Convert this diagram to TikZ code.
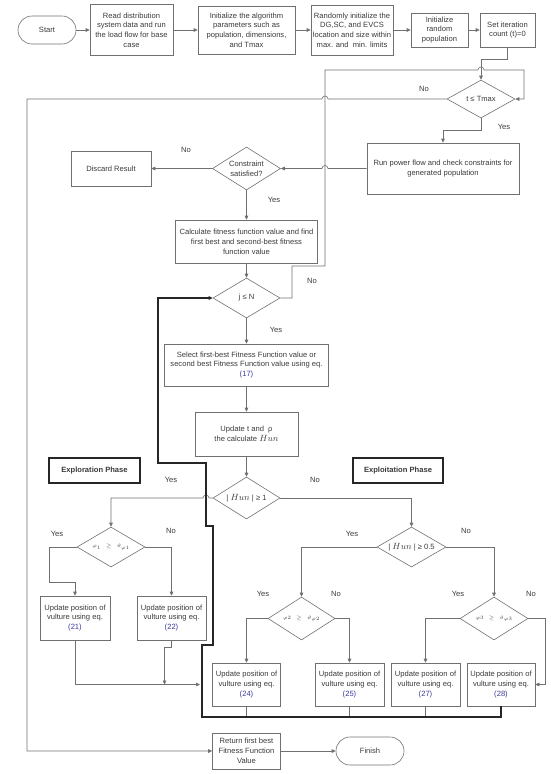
\documentclass[tikz,border=0pt]{standalone}
\usepackage{fontspec}
\setmainfont{Liberation Sans}
\usepackage{tikz}
\usetikzlibrary{arrows.meta,shapes.geometric}

\definecolor{linegray}{HTML}{707070}
\definecolor{txtgray}{HTML}{3A3A3A}
\definecolor{darkline}{HTML}{262626}
\definecolor{eqblue}{HTML}{3A3A9C}
\newcommand{\eqlink}[1]{\textcolor{eqblue}{(#1)}}
\newcommand{\hunvar}{{\fontsize{9.5}{9.8}\selectfont$Hun$}}
\newcommand{\phicond}[2]{{\fontsize{5.5}{6}\selectfont$\varphi#1\;\,\geq\;\,\vartheta_{\varphi#2}$}}

\begin{document}
\begin{tikzpicture}[x=1pt, y=-1pt,
    every node/.style={font=\fontsize{7.6}{9.8}\selectfont, text=txtgray},
    box/.style={draw=linegray, semithick, align=center, inner sep=1pt},
    dia/.style={draw=linegray, semithick, diamond, aspect=1.6, inner sep=0pt, align=center},
    term/.style={draw=linegray, semithick, rounded corners=14pt, align=center,
        minimum width=58, minimum height=28},
    phase/.style={draw=darkline, line width=1.1pt, font=\fontsize{7.6}{9.8}\bfseries,
        minimum width=91, minimum height=25},
    arr/.style={draw=linegray, semithick, -{Triangle[length=4pt,width=3.6pt]}},
    wire/.style={draw=linegray, semithick},
    back/.style={draw=darkline, line width=1.1pt}]
\useasboundingbox (0,0) rectangle (550,774);
% Top row
\node[term] (start) at (47,30) {Start};
\node[box, minimum width=83, minimum height=51] (read) at (131.5,30)
    {Read distribution\\system data and run\\the load flow for base\\case};
\node[box, minimum width=97, minimum height=48] (init) at (246.5,30)
    {Initialize the algorithm\\parameters such as\\population, dimensions,\\and Tmax};
\node[box, minimum width=82, minimum height=50] (rand) at (352,30)
    {Randomly initialize the\\DG,SC, and EVCS\\location and size within\\max. and\ \ min. limits};
\node[box, minimum width=57, minimum height=34] (irand) at (439.5,30)
    {Initialize\\random\\population};
\node[box, minimum width=55, minimum height=34] (setit) at (507.5,30)
    {Set iteration\\count (t)=0};
% Main loop
\node[dia, minimum width=68, minimum height=38] (tmax) at (481,99) {t ≤ Tmax};
\node[box, minimum width=152, minimum height=51] (run) at (443,168.5)
    {Run power flow and check constraints for\\generated population};
\node[dia, minimum width=68, minimum height=43] (cons) at (246.5,168.5)
    {Constraint\\satisfied?};
\node[box, minimum width=80, minimum height=35] (disc) at (111,168.5) {Discard Result};
\node[box, minimum width=142, minimum height=43] (calc) at (246.5,241.5)
    {Calculate fitness function value and find\\first best and second-best fitness\\function value};
\node[dia, minimum width=67, minimum height=40] (jn) at (246.5,298) {j ≤ N};
\node[box, minimum width=164, minimum height=42] (sel) at (246.5,365)
    {Select first-best Fitness Function value or\\second best Fitness Function value using eq.\\\eqlink{17}};
\node[box, minimum width=103, minimum height=44] (upd) at (246.5,434)
    {Update t and\ \ ρ\\the calculate \hunvar};
\node[dia, minimum width=67, minimum height=42] (hun) at (246.5,498)
    {| \hunvar\ | ≥ 1};
% Phases
\node[phase] (explor) at (94.5,470.5) {Exploration Phase};
\node[phase, minimum width=90] (exploit) at (398,470.5) {Exploitation Phase};
\node[dia, minimum width=68, minimum height=40] (phia) at (111,547) {\phicond{_1}{1}};
\node[dia, minimum width=69, minimum height=40] (hunb) at (411.5,547)
    {| \hunvar\ | ≥ 0.5};
\node[dia, minimum width=67, minimum height=43] (phib) at (301.5,618.5) {\phicond{2}{2}};
\node[dia, minimum width=68, minimum height=43] (phic) at (494,618.5) {\phicond{3}{3}};
% Position updates
\node[box, minimum width=70, minimum height=44] (boxa) at (75,618)
    {Update position of\\vulture using eq.\\\eqlink{21}};
\node[box, minimum width=69, minimum height=44] (boxb) at (171.5,618)
    {Update position of\\vulture using eq.\\\eqlink{22}};
\node[box, minimum width=68, minimum height=43] (boxc) at (246.5,684.5)
    {Update position of\\vulture using eq.\\\eqlink{24}};
\node[box, minimum width=69, minimum height=43] (boxd) at (349.5,684.5)
    {Update position of\\vulture using eq.\\\eqlink{25}};
\node[box, minimum width=69, minimum height=43] (boxe) at (425.5,684.5)
    {Update position of\\vulture using eq.\\\eqlink{27}};
\node[box, minimum width=68, minimum height=43] (boxf) at (501,684.5)
    {Update position of\\vulture using eq.\\\eqlink{28}};
\coordinate (merge) at (200,684.5);
% End
\node[box, minimum width=68, minimum height=36] (ret) at (246.5,751)
    {Return first best\\Fitness Function\\Value};
\node[term, minimum width=68] (fin) at (370,751) {Finish};

% Connectors, top row
\draw[arr] (start) -- (read);
\draw[arr] (read) -- (init);
\draw[arr] (init) -- (rand);
\draw[arr] (rand) -- (irand);
\draw[arr] (irand) -- (setit);
\draw[arr] (setit.south) -- ++(0,12) -| (tmax.north);
% t check
\draw[arr] (tmax.west) -- (328,99) arc[start angle=0, end angle=-180, radius=3]
    -- (27,99) |- (ret.west);
\draw[arr] (tmax.south) -- ++(0,12) -| (run.north);
\draw[arr] (run.west) -- (328,168.5) arc[start angle=0, end angle=-180, radius=3]
    -- (cons.east);
\draw[arr] (cons.west) -- (disc.east);
\draw[arr] (cons.south) -- (calc.north);
\draw[arr] (calc.south) -- (jn.north);
\draw[arr] (jn.east) -- (292,298) -- (292,266) -- (325,266) -- (325,70)
    -- (478,70) arc[start angle=180, end angle=360, radius=3] -- (524,70) |- (tmax.east);
\draw[arr] (jn.south) -- (sel.north);
\draw[arr] (sel.south) -- (upd.north);
\draw[arr] (upd.south) -- (hun.north);
% Exploration
\draw[arr] (hun.west) -- (209,498) arc[start angle=0, end angle=-180, radius=3]
    -| (phia.north);
\draw[arr] (phia.west) -- (49,547) -- (49,582) -| (boxa.north);
\draw[arr] (phia.east) -| (boxb.north);
\draw[arr] (boxa.south) |- (merge);
\draw[arr] (boxb.south) -- ++(0,7) -- ++(-7,0) -- (164.5,684.5);
% Exploitation
\draw[arr] (hun.east) -| (hunb.north);
\draw[arr] (hunb.west) -| (phib.north);
\draw[arr] (hunb.east) -| (phic.north);
\draw[arr] (phib.west) -| (boxc.north);
\draw[arr] (phib.east) -| (boxd.north);
\draw[arr] (phic.west) -| (boxe.north);
\draw[arr] (phic.east) -- (545,618.5) |- (boxf.east);
% Back to j check
\foreach \b in {boxc,boxd,boxe}
    \draw[wire] (\b.south) -- ++(0,11);
\draw[back, -{Triangle[length=4pt,width=3.6pt]}] (boxf.south) -- (501,717) -- (202,717)
    -- (202,645) -- (213,645) -- (213,526) -- (206,526) -- (206,463) -- (158,463) |- (jn.west);
\draw[arr] (ret) -- (fin);
% Labels
\node at (424,89) {No};
\node at (504,127) {Yes};
\node at (186,150) {No};
\node at (274,200) {Yes};
\node at (312,281) {No};
\node at (276,330) {Yes};
\node at (171,480) {Yes};
\node at (315,480) {No};
\node at (57,534) {Yes};
\node at (171,531) {No};
\node at (352,534) {Yes};
\node at (466,531) {No};
\node at (263,594) {Yes};
\node at (336,594) {No};
\node at (458,594) {Yes};
\node at (531,594) {No};
\end{tikzpicture}
\end{document}
